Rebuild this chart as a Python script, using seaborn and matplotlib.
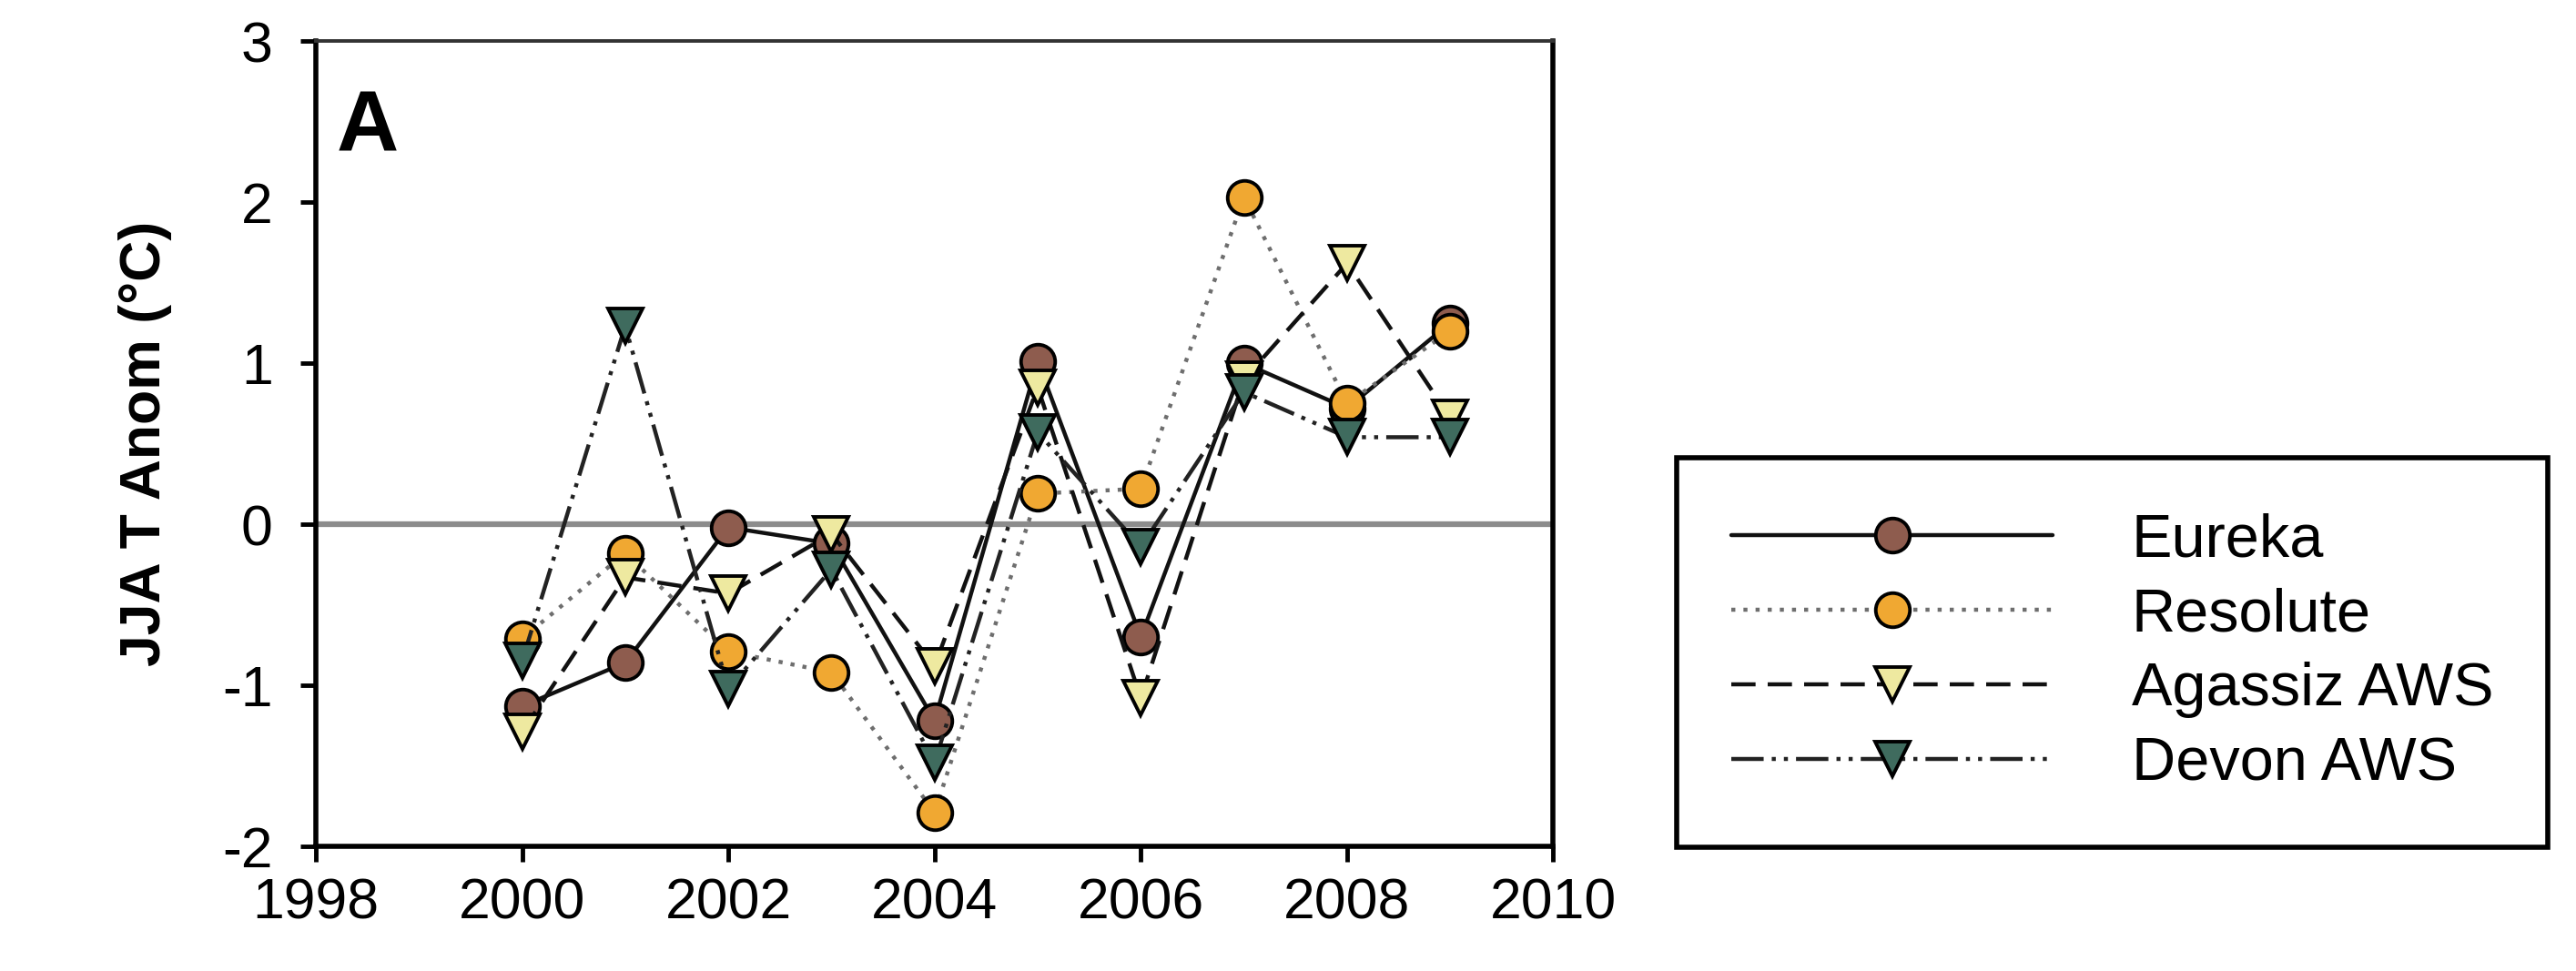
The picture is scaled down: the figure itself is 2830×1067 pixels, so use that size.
import matplotlib
matplotlib.use("Agg")
import matplotlib.pyplot as plt
import seaborn as sns
import pandas as pd

# DATA
years = [2000, 2001, 2002, 2003, 2004, 2005, 2006, 2007, 2008, 2009]
eureka = [-1.13, -0.86, -0.02, -0.12, -1.22, 1.01, -0.70, 1.00, 0.72, 1.25]
resolute = [-0.71, -0.18, -0.79, -0.92, -1.79, 0.19, 0.22, 2.03, 0.75, 1.20]
agassiz = [-1.29, -0.33, -0.43, -0.06, -0.88, 0.85, -1.08, 0.90, 1.62, 0.66]
devon = [-0.85, 1.23, -1.02, -0.28, -1.48, 0.57, -0.14, 0.82, 0.54, 0.54]

station_names = ["Eureka", "Resolute", "Agassiz AWS", "Devon AWS"]
x_ticks = [1998, 2000, 2002, 2004, 2006, 2008, 2010]
y_ticks = [-2, -1, 0, 1, 2, 3]

df = pd.DataFrame({"Year": years, "Eureka": eureka, "Resolute": resolute,
                   "Agassiz AWS": agassiz, "Devon AWS": devon})

# style per station: marker, fill, line colour, dashes
styles = {
    "Eureka":      dict(marker="o", mfc="#8e5c4e", color="#111111", dashes=None),
    "Resolute":    dict(marker="o", mfc="#f0a832", color="#6e6e6e", dashes=(1, 2)),
    "Agassiz AWS": dict(marker="v", mfc="#eee9a0", color="#111111", dashes=(6, 3)),
    "Devon AWS":   dict(marker="v", mfc="#3f6b5e", color="#222222", dashes=(8, 2, 1, 2, 1, 2)),
}

sns.set_style("ticks")
plt.rcParams['font.family'] = ['Liberation Sans', 'DejaVu Sans']
plt.rcParams['axes.unicode_minus'] = False
plt.rcParams['text.color'] = 'black'
plt.rcParams['axes.labelcolor'] = 'black'

fig = plt.figure(figsize=(28.3, 10.67), dpi=100)
ax = fig.add_axes([0.1226, 0.1284, 0.4804, 0.8294])

ax.axhline(0, color="#8c8c8c", lw=4.5, zorder=1)

for name in station_names:
    st = styles[name]
    sns.lineplot(data=df, x="Year", y=name, ax=ax, color=st["color"],
                 marker=st["marker"], markersize=27, markerfacecolor=st["mfc"],
                 markeredgecolor="black", markeredgewidth=2.8, lw=3.2,
                 label=name, legend=False, zorder=3)
    l = ax.lines[-1]
    if st["dashes"] is not None:
        l.set_dashes(st["dashes"])

ax.set_xlim(1998, 2010)
ax.set_ylim(-2, 3)
ax.set_xticks(x_ticks)
ax.set_yticks(y_ticks)
ax.tick_params(axis="both", direction="out", length=12, width=3.5, labelsize=45,
               colors="black")
ax.tick_params(axis="y", pad=22)
ax.tick_params(axis="x", pad=12)
ax.set_xlabel("")
ax.set_ylabel("JJA T Anom (°C)", fontsize=45, fontweight="bold", labelpad=40)

for side in ["left", "bottom", "right"]:
    ax.spines[side].set_linewidth(4)
    ax.spines[side].set_color("black")
ax.spines["top"].set_linewidth(2.8)
ax.spines["top"].set_color("#333333")

ax.text(0.017, 0.89, "A", transform=ax.transAxes, fontsize=68, fontweight="bold",
        va="center", ha="left")

handles = ax.lines[1:]
leg = fig.legend(handles, station_names, loc="center",
                 bbox_to_anchor=(0.653, 0.121, 0.334, 0.414),
                 fontsize=48, frameon=True, fancybox=False, framealpha=1,
                 handlelength=5.3, handletextpad=1.3, labelspacing=0.3,
                 borderpad=0.9, borderaxespad=0)
leg.get_frame().set_edgecolor("black")
leg.get_frame().set_linewidth(4)

fig.savefig("out.png", dpi=100, facecolor="white")
